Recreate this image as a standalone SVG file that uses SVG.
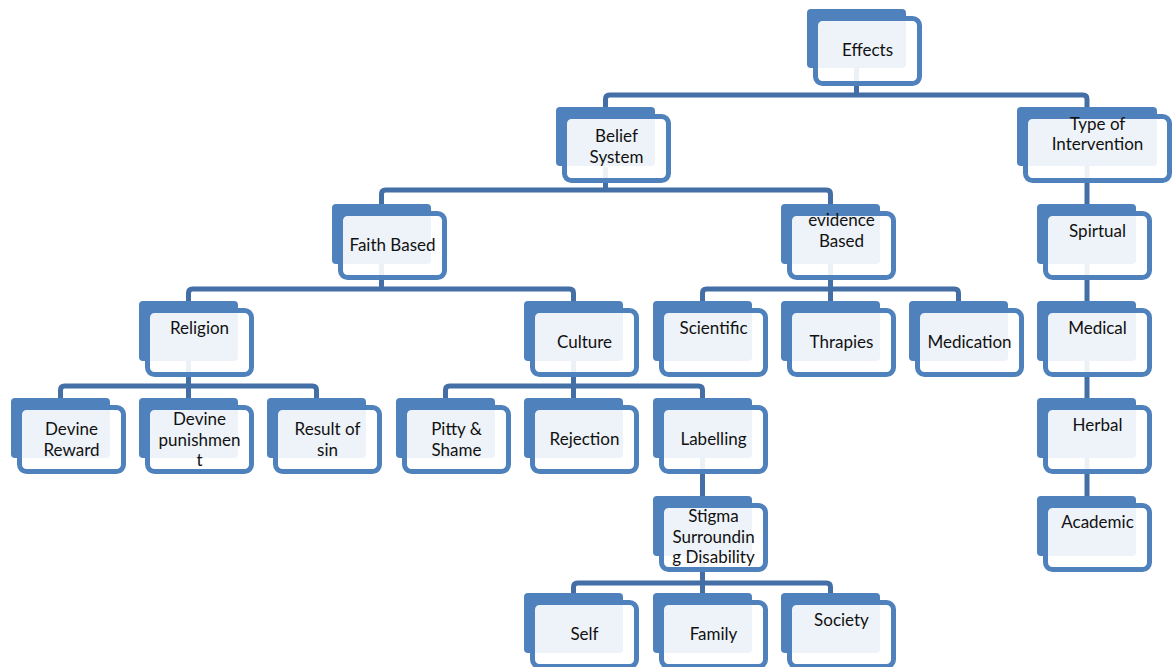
<svg xmlns="http://www.w3.org/2000/svg" width="1173" height="667" viewBox="0 0 1173 667">
<style>
.bk{fill:#4F81BD}
.fr{fill:#FFFFFF;fill-opacity:0.9;stroke:#4F81BD;stroke-width:5}
.t{font-family:Lato,"Open Sans",sans-serif;font-size:17px;fill:#111;text-anchor:middle}
.c{fill:none;stroke:#446FA6;stroke-width:5}
</style>
<rect width="1173" height="667" fill="#FFFFFF"/>
<g id="connectors">
<path class="c" d="M856.5,68V95M605.5,107V99Q605.5,95 609.5,95H1083Q1087,95 1087,99V107"/>
<path class="c" d="M605.5,167V190M381.5,204V194Q381.5,190 385.5,190H826.5Q830.5,190 830.5,194V204"/>
<path class="c" d="M381.5,264V289M188.5,301V293Q188.5,289 192.5,289H569.5Q573.5,289 573.5,293V301"/>
<path class="c" d="M830.5,264V301M702.5,301V293Q702.5,289 706.5,289H954.5Q958.5,289 958.5,293V301"/>
<path class="c" d="M188.5,361V398M60.5,398V390Q60.5,386 64.5,386H312.5Q316.5,386 316.5,390V398"/>
<path class="c" d="M573.5,361V398M445.5,398V390Q445.5,386 449.5,386H698.5Q702.5,386 702.5,390V398"/>
<path class="c" d="M702.5,458V496"/>
<path class="c" d="M702.5,556V593M573.5,593V587Q573.5,583 577.5,583H826.5Q830.5,583 830.5,587V593"/>
<path class="c" d="M1087,166V496"/>
</g>
<g id="effects"><rect class="bk" x="807" y="9" width="99" height="59" rx="4"/><rect class="fr" x="815.5" y="18.5" width="104" height="65" rx="7"/><text class="t" x="867.5" y="56">Effects</text></g>
<g id="belief-system"><rect class="bk" x="556" y="107" width="99" height="59" rx="4"/><rect class="fr" x="564.5" y="116.5" width="104" height="64" rx="7"/><text class="t" x="616.5" y="142">Belief</text><text class="t" x="616.5" y="163">System</text></g>
<g id="type-of-intervention"><rect class="bk" x="1017" y="107" width="140" height="59" rx="4"/><rect class="fr" x="1025.5" y="116.5" width="144" height="64" rx="7"/><text class="t" x="1097.5" y="130">Type of</text><text class="t" x="1097.5" y="150">Intervention</text></g>
<g id="faith-based"><rect class="bk" x="332" y="204" width="99" height="60" rx="4"/><rect class="fr" x="340.5" y="213.5" width="104" height="64" rx="7"/><text class="t" x="392.5" y="251">Faith Based</text></g>
<g id="evidence-based"><rect class="bk" x="781" y="204" width="99" height="60" rx="4"/><rect class="fr" x="789.5" y="213.5" width="104" height="64" rx="7"/><text class="t" x="841.5" y="226">evidence</text><text class="t" x="841.5" y="247">Based</text></g>
<g id="spirtual"><rect class="bk" x="1037" y="204" width="99" height="60" rx="4"/><rect class="fr" x="1045.5" y="213.5" width="104" height="64" rx="7"/><text class="t" x="1097.5" y="237">Spirtual</text></g>
<g id="medical"><rect class="bk" x="1037" y="301" width="99" height="60" rx="4"/><rect class="fr" x="1045.5" y="310.5" width="104" height="64" rx="7"/><text class="t" x="1097.5" y="334">Medical</text></g>
<g id="herbal"><rect class="bk" x="1037" y="398" width="99" height="60" rx="4"/><rect class="fr" x="1045.5" y="407.5" width="104" height="64" rx="7"/><text class="t" x="1097.5" y="431">Herbal</text></g>
<g id="academic"><rect class="bk" x="1037" y="496" width="99" height="60" rx="4"/><rect class="fr" x="1045.5" y="505.5" width="104" height="64" rx="7"/><text class="t" x="1097.5" y="528">Academic</text></g>
<g id="religion"><rect class="bk" x="139" y="301" width="99" height="60" rx="4"/><rect class="fr" x="147.5" y="310.5" width="104" height="64" rx="7"/><text class="t" x="199.5" y="334">Religion</text></g>
<g id="culture"><rect class="bk" x="524" y="301" width="99" height="60" rx="4"/><rect class="fr" x="532.5" y="310.5" width="104" height="64" rx="7"/><text class="t" x="584.5" y="348">Culture</text></g>
<g id="scientific"><rect class="bk" x="653" y="301" width="99" height="60" rx="4"/><rect class="fr" x="661.5" y="310.5" width="104" height="64" rx="7"/><text class="t" x="713.5" y="334">Scientific</text></g>
<g id="thrapies"><rect class="bk" x="781" y="301" width="99" height="60" rx="4"/><rect class="fr" x="789.5" y="310.5" width="104" height="64" rx="7"/><text class="t" x="841.5" y="348">Thrapies</text></g>
<g id="medication"><rect class="bk" x="909" y="301" width="99" height="60" rx="4"/><rect class="fr" x="917.5" y="310.5" width="104" height="64" rx="7"/><text class="t" x="969.5" y="348">Medication</text></g>
<g id="devine-reward"><rect class="bk" x="11" y="398" width="99" height="60" rx="4"/><rect class="fr" x="19.5" y="407.5" width="104" height="64" rx="7"/><text class="t" x="71.5" y="435">Devine</text><text class="t" x="71.5" y="456">Reward</text></g>
<g id="devine-punishment"><rect class="bk" x="139" y="398" width="99" height="60" rx="4"/><rect class="fr" x="147.5" y="407.5" width="104" height="64" rx="7"/><text class="t" x="199.5" y="425">Devine</text><text class="t" x="199.5" y="446">punishmen</text><text class="t" x="199.5" y="466">t</text></g>
<g id="result-of-sin"><rect class="bk" x="267" y="398" width="99" height="60" rx="4"/><rect class="fr" x="275.5" y="407.5" width="104" height="64" rx="7"/><text class="t" x="327.5" y="435">Result of</text><text class="t" x="327.5" y="456">sin</text></g>
<g id="pitty-shame"><rect class="bk" x="396" y="398" width="99" height="60" rx="4"/><rect class="fr" x="404.5" y="407.5" width="104" height="64" rx="7"/><text class="t" x="456.5" y="435">Pitty &amp;</text><text class="t" x="456.5" y="456">Shame</text></g>
<g id="rejection"><rect class="bk" x="524" y="398" width="99" height="60" rx="4"/><rect class="fr" x="532.5" y="407.5" width="104" height="64" rx="7"/><text class="t" x="584.5" y="445">Rejection</text></g>
<g id="labelling"><rect class="bk" x="653" y="398" width="99" height="60" rx="4"/><rect class="fr" x="661.5" y="407.5" width="104" height="64" rx="7"/><text class="t" x="713.5" y="445">Labelling</text></g>
<g id="stigma"><rect class="bk" x="653" y="496" width="99" height="60" rx="4"/><rect class="fr" x="661.5" y="505.5" width="104" height="64" rx="7"/><text class="t" x="713.5" y="522">Stigma</text><text class="t" x="713.5" y="543">Surroundin</text><text class="t" x="713.5" y="563">g Disability</text></g>
<g id="self"><rect class="bk" x="524" y="593" width="99" height="60" rx="4"/><rect class="fr" x="532.5" y="602.5" width="104" height="64" rx="7"/><text class="t" x="584.5" y="640">Self</text></g>
<g id="family"><rect class="bk" x="653" y="593" width="99" height="60" rx="4"/><rect class="fr" x="661.5" y="602.5" width="104" height="64" rx="7"/><text class="t" x="713.5" y="640">Family</text></g>
<g id="society"><rect class="bk" x="781" y="593" width="99" height="60" rx="4"/><rect class="fr" x="789.5" y="602.5" width="104" height="64" rx="7"/><text class="t" x="841.5" y="626">Society</text></g>
</svg>
